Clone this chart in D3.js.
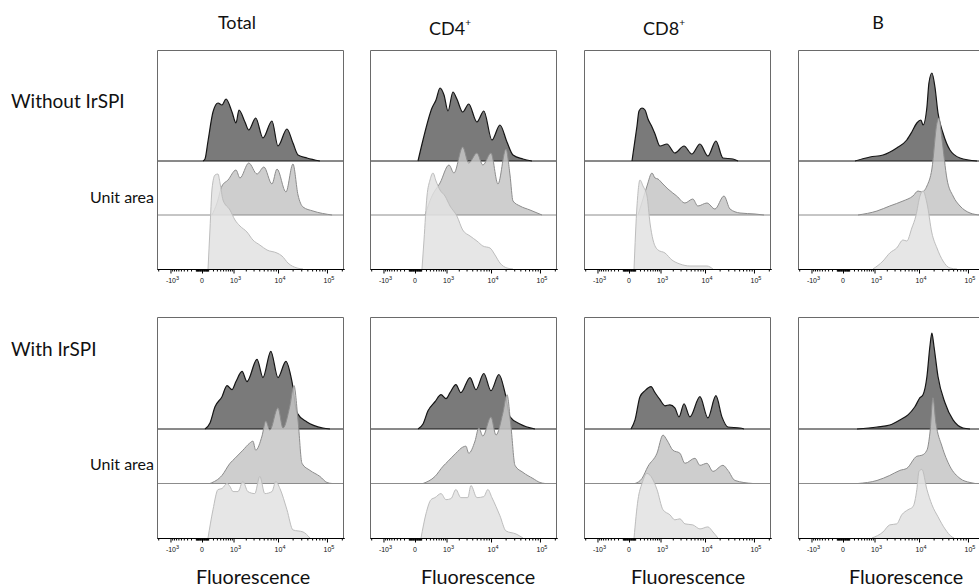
<!DOCTYPE html>
<html>
<head>
<meta charset="utf-8">
<script src="https://cdn.jsdelivr.net/npm/d3@7"></script>
<style>
  body { margin: 0; background: #fff; }
  svg { display: block; font-family: Lato, "Noto Sans", sans-serif; }
</style>
</head>
<body>
<svg width="979" height="588"></svg>
<script>
// column / row labels
const columns = ['Total', 'CD4', 'CD8', 'B']
const columnSup = ['', '+', '+', '']
const rowNames = ['Without IrSPI', 'With IrSPI']
const trackLabel = 'Unit area'
const axisTitle = 'Fluorescence'

// axis ticks
const majorTicks = [-1000, 0, 1000, 10000, 100000]
const majorLabels = [['-10', '3'], ['0', ''], ['10', '3'], ['10', '4'], ['10', '5']]

// histograms, [fluorescence, count] ; dark = top track, mid, light = bottom track
const totalWithout = {
  dark: [[14,0],[45,2],[97,20],[200,49],[332,58],[460,56],[617,62],[911,49],[1158,38],[1376,51],[1910,39],[2340,31],[3350,43],[4810,23],[7470,40],[9970,15],[15300,32],[20330,18],[25800,6],[39300,3],[72000,0]],
  mid: [[178,0],[303,12],[460,29],[706,35],[1158,45],[1454,37],[2340,52],[3580,41],[5040,48],[7470,31],[9520,46],[14580,23],[20330,51],[25800,20],[32600,8],[52000,4],[127000,0]],
  light: [[97,0],[135,40],[178,80],[249,94],[332,95],[393,86],[497,69],[803,59],[1092,49],[1454,43],[2130,37],[2900,29],[4120,24],[5870,19],[9520,16],[12100,13],[16030,6],[24600,1],[32600,0]]
}
const cd4Without = {
  dark: [[45,0],[135,21],[361,53],[497,61],[660,73],[856,66],[1092,50],[1454,69],[1805,62],[2460,49],[3350,57],[5040,39],[7070,50],[10450,21],[15300,36],[21300,19],[28300,6],[45200,2],[69000,0]],
  mid: [[178,0],[361,19],[660,32],[1158,50],[1538,42],[2460,68],[3350,52],[5040,62],[6750,50],[9970,62],[13920,31],[20330,66],[24600,40],[28300,14],[39300,9],[62800,5],[110000,0]],
  light: [[115,0],[156,29],[224,73],[303,89],[393,96],[497,88],[660,79],[911,73],[1230,63],[1805,53],[2460,39],[3580,33],[5040,28],[6750,23],[9520,21],[12100,14],[15300,6],[21300,1],[28300,0]]
}
const cd8Without = {
  dark: [[45,0],[61,7],[135,35],[178,50],[249,53],[332,51],[426,42],[575,34],[706,27],[968,15],[1454,17],[2230,8],[3580,15],[5280,7],[7830,17],[11470,5],[16800,20],[23400,3],[37500,2],[47500,0]],
  mid: [[156,0],[275,16],[393,29],[575,42],[706,37],[856,36],[1092,32],[1538,26],[2460,19],[3750,12],[5530,16],[7070,9],[10950,12],[16030,6],[24600,19],[32600,6],[52000,2],[105000,1],[160000,0]],
  light: [[79,0],[135,63],[200,89],[275,83],[393,73],[497,46],[617,29],[856,19],[1300,16],[1910,9],[2900,5],[4810,3],[10950,3],[14580,0]]
}
const bWithout = {
  dark: [[224,0],[754,4],[1630,6],[3350,13],[5530,21],[7070,29],[9000,38],[10950,41],[12100,36],[14580,54],[16030,78],[18440,88],[21300,74],[24600,48],[31100,28],[43100,11],[69000,3],[153000,0]],
  mid: [[303,0],[1158,4],[2340,9],[4590,14],[7470,19],[9520,24],[11470,23],[14580,29],[18440,46],[23400,92],[25800,97],[29600,76],[37500,36],[49800,19],[69000,9],[110000,2],[175000,0]],
  light: [[911,0],[1630,8],[2340,16],[3350,21],[4590,29],[5530,28],[7070,41],[8590,53],[10450,73],[12100,78],[14580,66],[18440,36],[23400,21],[31100,8],[43100,1],[60000,0]]
}
const totalWith = {
  dark: [[45,0],[135,6],[249,22],[460,32],[660,43],[911,39],[1158,47],[1630,57],[2130,47],[3580,69],[4810,51],[7070,77],[9970,51],[14580,67],[19400,47],[24600,16],[39300,7],[83000,1],[115000,0]],
  mid: [[135,0],[460,8],[803,20],[1092,25],[1710,33],[2460,40],[2900,42],[3350,33],[4590,47],[5530,62],[6750,53],[9970,75],[12680,55],[17600,77],[21300,97],[25800,63],[31100,20],[45200,13],[72000,7],[100000,1],[127000,0]],
  light: [[97,0],[200,28],[332,48],[460,49],[660,54],[803,51],[968,46],[1300,46],[1710,56],[2230,46],[3190,44],[4120,61],[5280,44],[7470,46],[9000,56],[10950,49],[15300,28],[20330,8],[32600,6],[45200,0]]
}
const cd4With = {
  dark: [[45,0],[135,5],[249,18],[460,27],[706,34],[968,30],[1230,36],[1710,44],[2230,36],[3580,51],[4810,39],[7070,55],[9970,38],[14580,54],[19400,36],[24600,12],[39300,5],[79300,0]],
  mid: [[135,0],[460,7],[803,17],[1092,22],[1710,30],[2460,36],[2900,37],[3350,30],[4590,42],[5530,55],[6750,47],[9970,66],[12680,48],[17600,70],[21300,88],[25800,56],[31100,18],[45200,11],[72000,5],[100000,1],[127000,0]],
  light: [[97,0],[200,24],[332,38],[460,40],[706,44],[968,38],[1300,39],[1710,48],[2230,40],[3190,40],[3750,52],[5040,40],[7070,41],[8590,48],[10450,40],[15300,22],[20330,7],[32600,4],[45200,0]]
}
const cd8With = {
  dark: [[29,0],[97,9],[200,32],[332,38],[535,42],[706,36],[968,29],[1300,23],[1710,24],[2230,21],[2770,12],[3580,25],[4810,12],[7830,32],[11470,11],[16800,33],[22300,12],[29600,2],[52000,1],[62800,0]],
  mid: [[97,0],[249,5],[426,17],[803,30],[1158,48],[1454,43],[2010,33],[2900,30],[3750,20],[6150,25],[7830,18],[10950,20],[14580,12],[23400,18],[29600,13],[41200,3],[95000,0]],
  light: [[79,0],[156,38],[249,54],[393,64],[535,61],[803,48],[1158,28],[1710,23],[2230,18],[2900,19],[3750,14],[5530,13],[7830,9],[11470,11],[14580,6],[18440,0]]
}
const bWith = {
  dark: [[275,0],[1158,2],[2340,4],[3930,9],[5870,14],[8200,22],[10450,31],[12100,34],[14580,52],[16800,82],[18440,95],[20330,82],[24600,52],[34150,26],[49800,9],[79300,1],[110000,0]],
  mid: [[303,0],[1158,3],[2340,8],[3930,13],[5530,15],[9000,27],[11470,28],[14580,33],[16800,50],[19400,85],[22300,60],[29600,37],[43100,17],[69000,5],[110000,1],[140000,0]],
  light: [[856,0],[1630,6],[2340,13],[3350,14],[4320,23],[5870,28],[7470,31],[9000,48],[9970,66],[11470,68],[14580,48],[18440,33],[24600,21],[34150,9],[47500,1],[52000,0]]
}
const panels = [
  [totalWithout, cd4Without, cd8Without, bWithout],
  [totalWith, cd4With, cd8With, bWith]
]

// layout
const panelX = [157, 370, 584, 798]
const panelW = 187
const rowTop = [50, 317]
const rowAxis = [269, 538]
const rowDarkBase = [161, 429]
const titleX = [253, 478, 688, 906]

const tracks = [
  {key: 'dark', fill: '#7a7a7a', stroke: '#151515', op: 1, w: 1.2},
  {key: 'mid', fill: '#c6c6c6', stroke: '#8c8c8c', op: 0.85, w: 1},
  {key: 'light', fill: '#e2e2e2', stroke: '#bdbdbd', op: 0.85, w: 1}
]

const svg = d3.select('svg')

const x = d3.scaleSymlog().constant(300).domain([-2133, 221300]).range([0, panelW])

// minor ticks of the biexponential axis
let minorTicks = [-2000]
d3.range(-900, 0, 100).forEach(v => minorTicks.push(v))
d3.range(-90, 100, 10).forEach(v => minorTicks.push(v))
d3.range(100, 1000, 100).forEach(v => minorTicks.push(v))
d3.range(2000, 10000, 1000).forEach(v => minorTicks.push(v))
d3.range(20000, 100000, 10000).forEach(v => minorTicks.push(v))
minorTicks.push(200000)

// headers
columns.forEach((c, i) => {
  const t = svg.append('text')
    .attr('x', panelX[i] + 80)
    .attr('y', columnSup[i] ? 35 : 29)
    .attr('text-anchor', 'middle')
    .attr('font-size', 18)
    .attr('fill', '#111')
  t.append('tspan').text(c)
  if (columnSup[i]) t.append('tspan').attr('font-size', 10).attr('dy', -9).text(columnSup[i])
})

rowNames.forEach((r, ri) => {
  svg.append('text').attr('x', 11).attr('y', ri == 0 ? 108 : 356)
    .attr('font-size', 19).attr('fill', '#111').text(r)
  svg.append('text').attr('x', 154).attr('y', ri == 0 ? 203 : 470)
    .attr('text-anchor', 'end')
    .attr('font-size', 16).attr('fill', '#111').text(trackLabel)
})

panels.forEach((row, ri) => {
  const trackH = (rowAxis[ri] - rowDarkBase[ri]) / 2
  const y = d3.scaleLinear().domain([0, 54]).range([0, trackH])

  row.forEach((panel, ci) => {
    const g = svg.append('g').attr('transform', 'translate(' + panelX[ci] + ',0)')

    tracks.forEach((tr, ti) => {
      const base = rowAxis[ri] - (2 - ti) * trackH
      const area = d3.area()
        .x(d => x(d[0]))
        .y0(base)
        .y1(d => base - y(d[1]))
        .curve(d3.curveMonotoneX)
      const line = d3.line()
        .x(d => x(d[0]))
        .y(d => base - y(d[1]))
        .curve(d3.curveMonotoneX)

      g.append('path').attr('d', area(panel[tr.key]))
        .attr('fill', tr.fill).attr('fill-opacity', tr.op)
      g.append('path').attr('d', line(panel[tr.key]))
        .attr('fill', 'none').attr('stroke', tr.stroke).attr('stroke-width', tr.w)
      if (ti < 2) {
        g.append('line').attr('x1', 0).attr('x2', panelW)
          .attr('y1', base).attr('y2', base)
          .attr('stroke', tr.stroke).attr('stroke-width', 1)
      }
    })

    // frame
    g.append('path')
      .attr('d', 'M0.5,' + rowAxis[ri] + 'V' + (rowTop[ri] + 0.5) + 'H' + (panelW - 0.5) + 'V' + rowAxis[ri])
      .attr('fill', 'none').attr('stroke', '#6a6a6a').attr('stroke-width', 1)

    // axis
    const ax = g.append('g').attr('transform', 'translate(0,' + rowAxis[ri] + ')')
    ax.call(d3.axisBottom(x).tickValues(minorTicks).tickSize(2.5).tickSizeOuter(0).tickFormat(''))
    ax.append('g').call(d3.axisBottom(x).tickValues(majorTicks).tickSize(4.5).tickSizeOuter(0).tickFormat(''))
    ax.selectAll('path.domain').attr('stroke', '#000')
    ax.selectAll('.tick line').attr('stroke', '#000')

    majorTicks.forEach((v, k) => {
      const t = ax.append('text')
        .attr('x', x(v) + (majorLabels[k][1] ? 2 : 0))
        .attr('y', 14)
        .attr('text-anchor', 'middle')
        .attr('font-family', '"Liberation Sans", Arial, sans-serif')
        .attr('font-size', 7)
        .attr('fill', '#111')
      t.append('tspan').text(majorLabels[k][0])
      if (majorLabels[k][1]) t.append('tspan').attr('font-size', 5.5).attr('dy', -3.5).text(majorLabels[k][1])
    })

    if (ri == 1) {
      svg.append('text').attr('x', titleX[ci]).attr('y', 584)
        .attr('text-anchor', 'middle').attr('font-size', 19.8).attr('fill', '#111')
        .text(axisTitle)
    }
  })
})
</script>
</body>
</html>
